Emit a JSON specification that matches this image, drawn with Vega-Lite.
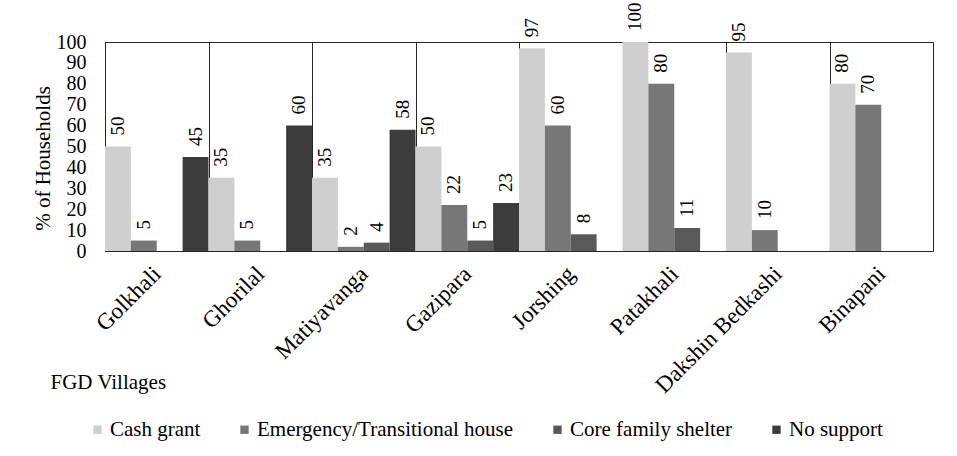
{
  "$schema": "https://vega.github.io/schema/vega-lite/v6.json",
  "width": 828,
  "height": 209,
  "autosize": {"type": "none"},
  "padding": {"left": 105, "top": 42, "right": 24, "bottom": 205},
  "background": "white",
  "config": {
    "font": "Liberation Serif, Times New Roman, serif",
    "axis": {"labelFont": "Liberation Serif, Times New Roman, serif", "titleFont": "Liberation Serif, Times New Roman, serif"},
    "legend": {"labelFont": "Liberation Serif, Times New Roman, serif", "titleFont": "Liberation Serif, Times New Roman, serif"},
    "text": {"font": "Liberation Serif, Times New Roman, serif"},
    "view": {"stroke": "#262626", "strokeWidth": 1}
  },
  "data": {
    "values": [
      {"village": "Golkhali", "support": "Cash grant", "pct": 50},
      {"village": "Golkhali", "support": "Emergency/Transitional house", "pct": 5},
      {"village": "Golkhali", "support": "No support", "pct": 45},
      {"village": "Ghorilal", "support": "Cash grant", "pct": 35},
      {"village": "Ghorilal", "support": "Emergency/Transitional house", "pct": 5},
      {"village": "Ghorilal", "support": "No support", "pct": 60},
      {"village": "Matiyavanga", "support": "Cash grant", "pct": 35},
      {"village": "Matiyavanga", "support": "Emergency/Transitional house", "pct": 2},
      {"village": "Matiyavanga", "support": "Core family shelter", "pct": 4},
      {"village": "Matiyavanga", "support": "No support", "pct": 58},
      {"village": "Gazipara", "support": "Cash grant", "pct": 50},
      {"village": "Gazipara", "support": "Emergency/Transitional house", "pct": 22},
      {"village": "Gazipara", "support": "Core family shelter", "pct": 5},
      {"village": "Gazipara", "support": "No support", "pct": 23},
      {"village": "Jorshing", "support": "Cash grant", "pct": 97},
      {"village": "Jorshing", "support": "Emergency/Transitional house", "pct": 60},
      {"village": "Jorshing", "support": "Core family shelter", "pct": 8},
      {"village": "Patakhali", "support": "Cash grant", "pct": 100},
      {"village": "Patakhali", "support": "Emergency/Transitional house", "pct": 80},
      {"village": "Patakhali", "support": "Core family shelter", "pct": 11},
      {"village": "Dakshin Bedkashi", "support": "Cash grant", "pct": 95},
      {"village": "Dakshin Bedkashi", "support": "Emergency/Transitional house", "pct": 10},
      {"village": "Binapani", "support": "Cash grant", "pct": 80},
      {"village": "Binapani", "support": "Emergency/Transitional house", "pct": 70}
    ]
  },
  "encoding": {
    "x": {
      "field": "village",
      "type": "nominal",
      "sort": ["Golkhali", "Ghorilal", "Matiyavanga", "Gazipara", "Jorshing", "Patakhali", "Dakshin Bedkashi", "Binapani"],
      "scale": {"paddingInner": 0, "paddingOuter": 0},
      "axis": {
        "labelAngle": -45,
        "labelAlign": "right",
        "labelBaseline": "middle",
        "labelFontSize": 23,
        "labelColor": "black",
        "labelPadding": 19,
        "labelLimit": 0,
        "ticks": false,
        "tickBand": "extent",
        "grid": true,
        "gridColor": "#262626",
        "gridWidth": 1,
        "domainColor": "#262626",
        "title": "FGD Villages",
        "titleFontSize": 21,
        "titleFontWeight": "normal",
        "titleColor": "black",
        "titleX": -55,
        "titleY": 131,
        "titleAlign": "left",
        "titleBaseline": "middle"
      }
    },
    "xOffset": {
      "field": "support",
      "type": "nominal",
      "scale": {
        "domain": ["Cash grant", "Emergency/Transitional house", "Core family shelter", "No support"],
        "paddingInner": 0,
        "paddingOuter": 0
      }
    },
    "y": {
      "field": "pct",
      "type": "quantitative",
      "scale": {"domain": [0, 100]},
      "axis": {
        "values": [0, 10, 20, 30, 40, 50, 60, 70, 80, 90, 100],
        "labelFontSize": 20,
        "labelColor": "black",
        "labelPadding": 19,
        "ticks": false,
        "grid": false,
        "domainColor": "#262626",
        "title": "% of Households",
        "titleFontSize": 21,
        "titleFontWeight": "normal",
        "titleColor": "black",
        "titleX": -62,
        "titleY": 116,
        "titleAngle": -90,
        "titleAlign": "center",
        "titleBaseline": "middle"
      }
    }
  },
  "layer": [
    {
      "mark": {"type": "bar"},
      "encoding": {
        "color": {
          "field": "support",
          "type": "nominal",
          "scale": {
            "domain": ["Cash grant", "Emergency/Transitional house", "Core family shelter", "No support"],
            "range": ["#cfcfcf", "#777777", "#595959", "#3c3c3c"]
          },
          "legend": {
            "orient": "none",
            "legendX": -18,
            "legendY": 377,
            "direction": "horizontal",
            "title": null,
            "labelFontSize": 21,
            "labelColor": "black",
            "labelLimit": 0,
            "symbolType": "square",
            "symbolSize": 70,
            "symbolStrokeWidth": 0,
            "columnPadding": 33,
            "labelOffset": 2
          }
        }
      }
    },
    {
      "mark": {"type": "text", "angle": 270, "align": "left", "baseline": "middle", "dx": 11, "fontSize": 19, "color": "black"},
      "encoding": {
        "text": {"field": "pct", "type": "quantitative"}
      }
    }
  ]
}
